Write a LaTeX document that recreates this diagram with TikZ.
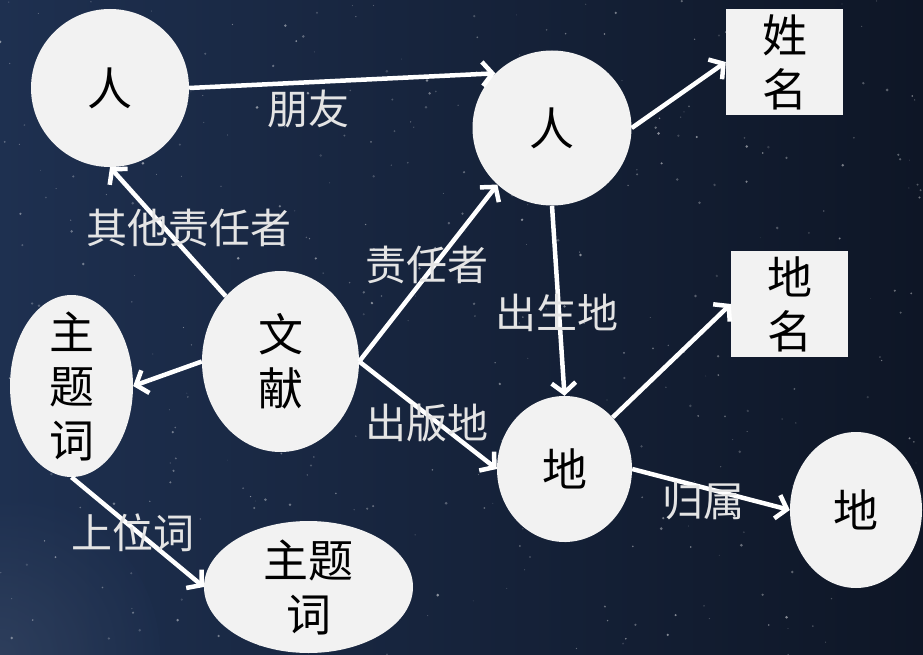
\documentclass[tikz,border=0pt]{standalone}
\usepackage{fontspec}
\newfontfamily\cjk{Noto Sans CJK SC}
\usetikzlibrary{shapes.geometric,arrows.meta}
\definecolor{bgl}{RGB}{30,48,80}
\definecolor{bgr}{RGB}{14,22,38}
\definecolor{nodefill}{RGB}{242,242,242}
\definecolor{lbl}{RGB}{228,228,228}
\begin{document}
\begin{tikzpicture}[x=1pt,y=-1pt,
  ent/.style={ellipse,fill=nodefill,draw=none,inner sep=0pt},
  box/.style={rectangle,fill=nodefill,draw=none,inner sep=0pt,align=center,
    font=\cjk\fontsize{45}{54}\selectfont,text=black},
  inner/.style={text=black,align=center,font=\cjk\fontsize{45}{54}\selectfont},
  rel/.style={draw=white,line width=4.5pt,-{Straight Barb[length=10pt,width=24pt]}},
  rlabel/.style={text=lbl,font=\cjk\fontsize{41}{46}\selectfont,inner sep=0pt}]
% background
\useasboundingbox (0,0) rectangle (923,655);
\shade[left color=bgl,right color=bgr] (0,0) rectangle (923,655);
\shade[inner color=bgl!80!white,outer color=bgl,opacity=0.35] (0,655) circle (160pt);
\pgfmathsetseed{11}
\foreach \i in {1,...,420}{
  \pgfmathsetmacro\sx{rnd*923}
  \pgfmathsetmacro\sy{rnd*655}
  \pgfmathsetmacro\sr{0.4+rnd*1.1}
  \pgfmathsetmacro\so{0.15+rnd*0.35}
  \fill[white,opacity=\so] (\sx,\sy) circle (\sr pt);
}
% nodes
\node[ent,minimum width=158pt,minimum height=158pt,
  label={[inner]center:人}] (p1) at (110,88) {};
\node[ent,minimum width=159pt,minimum height=155pt,
  label={[inner]center:人}] (p2) at (552,128) {};
\node[box,minimum width=117pt,minimum height=106pt] (xm) at (784.5,62) {姓\\名};
\node[box,minimum width=117pt,minimum height=106pt] (dm) at (789.5,304) {地\\名};
\node[ent,minimum width=157pt,minimum height=181pt,
  label={[inner]center:文\\献}] (wx) at (280.5,361.5) {};
\node[ent,minimum width=123pt,minimum height=182pt,
  label={[inner]center:主\\题\\词}] (zt) at (71.5,386) {};
\node[ent,minimum width=209pt,minimum height=132pt,
  label={[inner]center:主题\\词}] (zb) at (308.5,587) {};
\node[ent,minimum width=135pt,minimum height=146pt,
  label={[inner]center:地}] (d1) at (564.5,469) {};
\node[ent,minimum width=132pt,minimum height=156pt,
  label={[inner]center:地}] (d2) at (856,510) {};
% connectors
\draw[rel] (p1.east) -- (p2.136);
\draw[rel] (wx.130) -- (p1.south);
\draw[rel] (wx.east) -- (p2.226);
\draw[rel] (wx.west) -- (zt.east);
\draw[rel] (wx.east) -- (d1.west);
\draw[rel] (p2.east) -- (xm.west);
\draw[rel] (p2.south) -- (d1.north);
\draw[rel] (d1.47) -- (dm.west);
\draw[rel] (d1.east) -- (d2.west);
\draw[rel] (zt.south) -- (zb.west);
% labels
\node[rlabel] (l1) at (308,109) {朋友};
\node[rlabel] (l2) at (189,228) {其他责任者};
\node[rlabel] (l3) at (427,265) {责任者};
\node[rlabel] (l4) at (557,313) {出生地};
\node[rlabel] (l5) at (427,423) {出版地};
\node[rlabel] (l6) at (133,533) {上位词};
\node[rlabel] (l7) at (703,501) {归属};
\end{tikzpicture}
\end{document}
